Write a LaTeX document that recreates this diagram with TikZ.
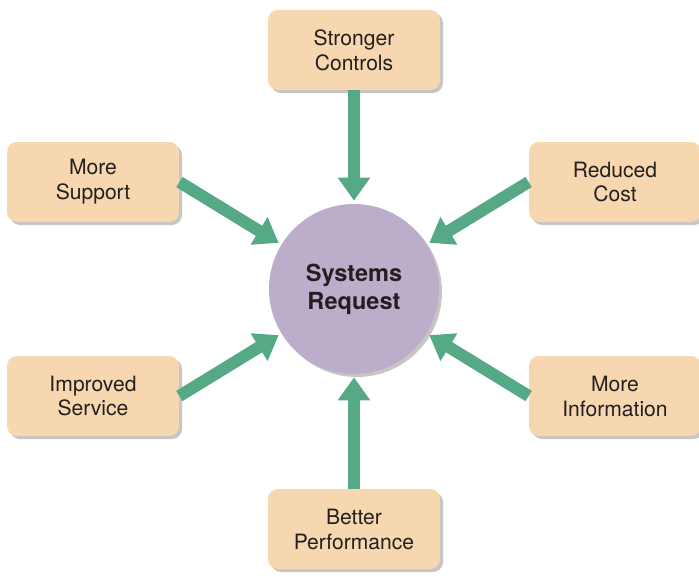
\documentclass[tikz,border=0pt]{standalone}
\usepackage{fontspec}
\setmainfont{TeX Gyre Heros}
\usetikzlibrary{arrows.meta,shadows}

\definecolor{boxfill}{HTML}{F6D7AF}
\definecolor{reqfill}{HTML}{BCADCB}
\definecolor{arrowgreen}{HTML}{55A985}
\definecolor{inktext}{HTML}{231F20}

\tikzset{
	reason/.style={rectangle, rounded corners=0.2cm, fill=boxfill,
		minimum width=3.44cm, minimum height=1.6cm, align=center,
		text=inktext, font=\fontsize{12}{14.2}\selectfont,
		drop shadow={opacity=0.45, shadow xshift=0.06cm, shadow yshift=-0.06cm}},
	request/.style={circle, fill=reqfill, minimum size=3.4cm, inner sep=0pt,
		align=center, text=inktext, font=\fontsize{13.4}{16}\selectfont\bfseries,
		drop shadow={opacity=0.45, shadow xshift=0.06cm, shadow yshift=-0.06cm}},
	push/.style={draw=arrowgreen, line width=0.24cm,
		-{Triangle[length=0.46cm, width=0.62cm]}, shorten >=0.06cm}
}

\begin{document}
\begin{tikzpicture}
	\useasboundingbox (0, 0) rectangle (13.98, -11.52);
	\node [request] (SR) at (7.08, -5.78) {Systems\\Request};
	\node [reason] (SC) at (7.08, -1.0) {Stronger\\Controls};
	\node [reason] (MS) at (1.86, -3.64) {More\\Support};
	\node [reason] (RC) at (12.30, -3.64) {Reduced\\Cost};
	\node [reason] (IS) at (1.86, -7.92) {Improved\\Service};
	\node [reason] (MI) at (12.30, -7.92) {More\\Information};
	\node [reason] (BP) at (7.08, -10.58) {Better\\Performance};
	\draw [push] (SC) -- (SR);
	\draw [push] (MS.east) -- (SR);
	\draw [push] (RC.west) -- (SR);
	\draw [push] (IS.east) -- (SR);
	\draw [push] (MI.west) -- (SR);
	\draw [push] (BP) -- (SR);
\end{tikzpicture}
\end{document}
